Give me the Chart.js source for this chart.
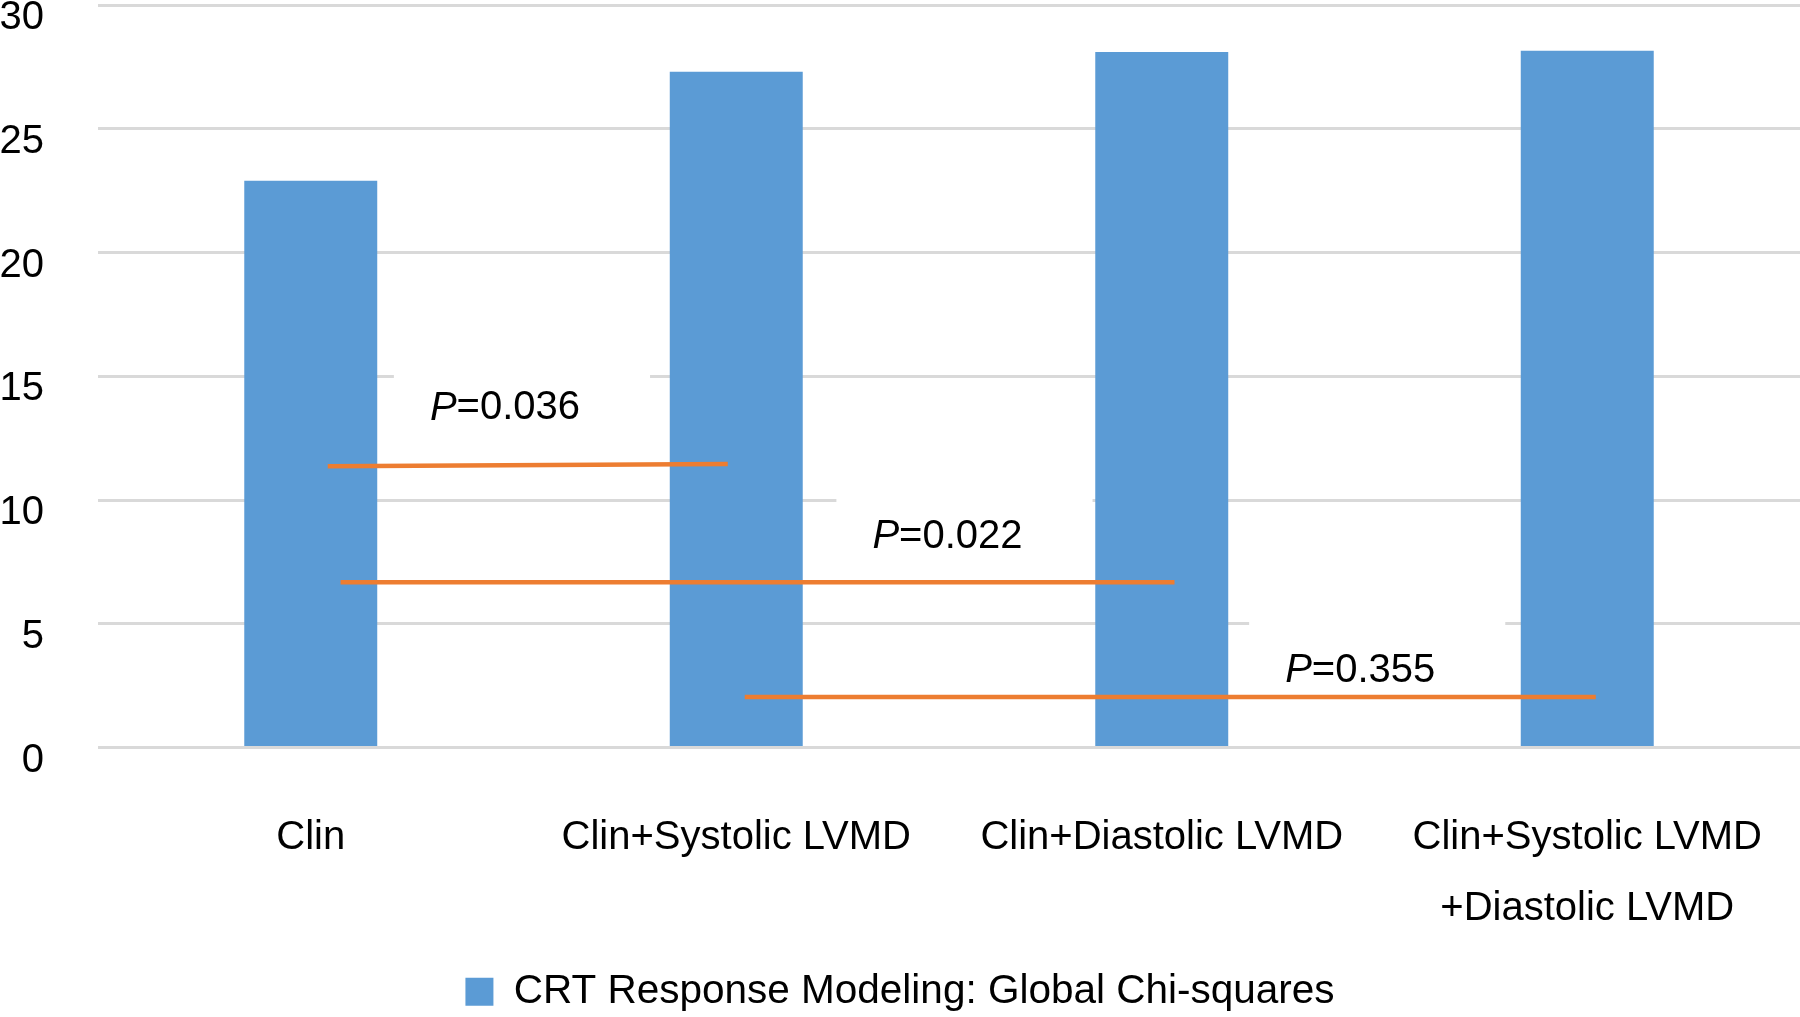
<!DOCTYPE html>
<html>
<head>
<meta charset="utf-8">
<script src="https://cdn.jsdelivr.net/npm/chart.js@4"></script>
<style>
  html, body { margin: 0; padding: 0; background: #fff; }
  #wrap { width: 1800px; height: 1017px; }
</style>
</head>
<body>
<div id="wrap"><canvas id="chart"></canvas></div>
<script>
// --- Data ---
const categories = ['Clin', 'Clin+Systolic LVMD', 'Clin+Diastolic LVMD', ['Clin+Systolic LVMD', '+Diastolic LVMD']];
const chiSquares = [22.9, 27.3, 28.1, 28.15];
const seriesName = 'CRT Response Modeling: Global Chi-squares';

// comparison brackets (x in category index units, y in chi-square units)
const pValues = ['0.036', '0.022', '0.355'];
const bracketFromX = [0.04, 0.07, 1.02];
const bracketToX = [0.98, 2.03, 3.02];
const bracketFromY = [11.36, 6.68, 2.04];
const bracketToY = [11.45, 6.68, 2.04];
const pLabelX = [0.28, 1.32, 2.29];
const pLabelY = [13.7, 8.5, 3.1];

const FONT = "'Liberation Sans', Arial, sans-serif";
const BLUE = '#5B9BD5';
const ORANGE = '#ED7D31';

// --- P value labels (white box hides the gridlines behind them) ---
const pLabelPlugin = {
    id: 'pLabels',
    beforeDatasetsDraw(chart) {
        const ctx = chart.ctx;
        const xs = chart.scales.x2, ys = chart.scales.y;
        ctx.save();
        ctx.textBaseline = 'middle';
        ctx.textAlign = 'left';
        pValues.forEach((p, i) => {
            const x = xs.getPixelForValue(pLabelX[i]);
            const y = ys.getPixelForValue(pLabelY[i]);
            ctx.font = 'italic 40px ' + FONT;
            const wP = ctx.measureText('P').width;
            ctx.font = '40px ' + FONT;
            const wRest = ctx.measureText('=' + p).width;
            ctx.fillStyle = '#fff';
            ctx.fillRect(x - 36, y - 56, wP + wRest + 36 + 70, 92);
            ctx.fillStyle = '#000';
            ctx.font = 'italic 40px ' + FONT;
            ctx.fillText('P', x, y);
            ctx.font = '40px ' + FONT;
            ctx.fillText('=' + p, x + wP, y);
        });
        ctx.restore();
    }
};

const datasets = [{
    type: 'bar',
    label: seriesName,
    data: chiSquares,
    backgroundColor: BLUE,
    borderWidth: 0,
    grouped: false,
    barPercentage: 0.3125,
    categoryPercentage: 1,
    order: 2
}];
pValues.forEach((p, i) => {
    datasets.push({
        type: 'line',
        label: 'P=' + p,
        xAxisID: 'x2',
        data: [{ x: bracketFromX[i], y: bracketFromY[i] }, { x: bracketToX[i], y: bracketToY[i] }],
        borderColor: ORANGE,
        borderWidth: 4.5,
        pointRadius: 0,
        fill: false,
        order: 1
    });
});

new Chart(document.getElementById('chart'), {
    type: 'bar',
    data: { labels: categories, datasets: datasets },
    plugins: [pLabelPlugin],
    options: {
        responsive: true,
        maintainAspectRatio: false,
        animation: false,
        layout: { padding: { top: 5, right: 0, left: 0, bottom: -5 } },
        scales: {
            x: {
                offset: true,
                grid: { display: false },
                border: { display: false },
                ticks: {
                    color: '#000',
                    padding: 47,
                    maxRotation: 0,
                    autoSkip: false,
                    font: { family: FONT, size: 40, lineHeight: 1.78 }
                },
                afterFit: s => { s.height = 224; s.paddingLeft = 0; s.paddingRight = 0; }
            },
            x2: {
                type: 'linear',
                display: false,
                min: -0.5,
                max: 3.5,
                offset: false
            },
            y: {
                min: 0,
                max: 30,
                border: { display: false },
                grid: { color: '#D9D9D9', lineWidth: 3, drawTicks: false },
                ticks: {
                    stepSize: 5,
                    color: '#000',
                    padding: 54,
                    labelOffset: 13,
                    font: { family: FONT, size: 40 }
                },
                afterFit: s => { s.width = 98; s.paddingTop = 0; s.paddingBottom = 0; }
            }
        },
        plugins: {
            legend: {
                position: 'bottom',
                labels: {
                    color: '#000',
                    boxWidth: 28,
                    boxHeight: 28,
                    padding: 0,
                    font: { family: FONT, size: 40.5 },
                    filter: item => item.datasetIndex === 0
                }
            },
            tooltip: { enabled: false }
        }
    }
});
</script>
</body>
</html>
